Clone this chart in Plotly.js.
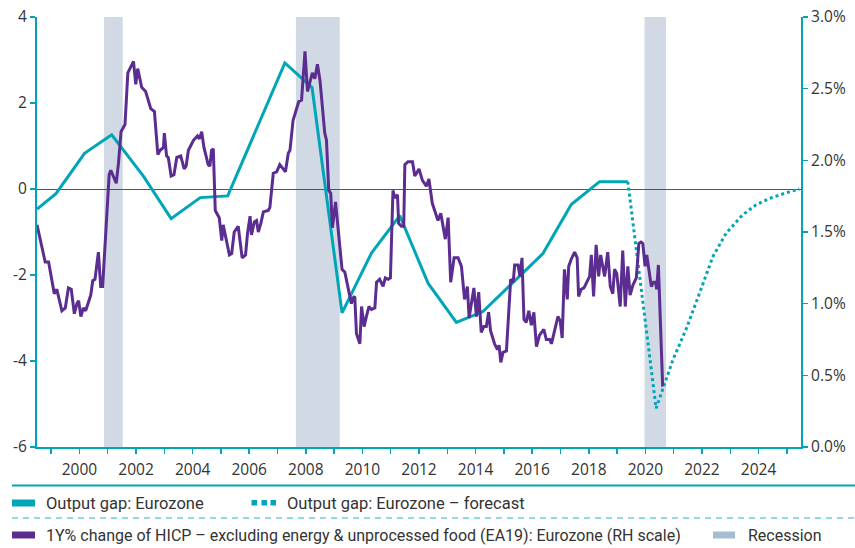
<!DOCTYPE html>
<html>
<head>
<meta charset="utf-8">
<script src="https://cdn.plot.ly/plotly-3.0.1.min.js"></script>
<style>html,body{margin:0;padding:0;background:#fff;}#chart{width:855px;height:548px;}</style>
</head>
<body>
<div id="chart"></div>
<script>
// ---- Data ----
// Output gap: Eurozone (left scale), annual observations
const gapYear  = [1998.50, 1999.17, 2000.18, 2001.14, 2002.26, 2003.24, 2004.27, 2005.24, 2007.26, 2008.22, 2009.28, 2010.32, 2011.32, 2012.32, 2013.32, 2014.26, 2016.38, 2017.38, 2018.38, 2019.38];
const gapValue = [-0.47, -0.11, 0.83, 1.26, 0.30, -0.69, -0.20, -0.16, 2.93, 2.36, -2.88, -1.49, -0.62, -2.19, -3.10, -2.85, -1.50, -0.36, 0.17, 0.17];

// Output gap: Eurozone - forecast (left scale)
const fcYear  = [2019.38, 2020.38, 2020.97, 2021.44, 2021.91, 2022.38, 2022.85, 2023.44, 2023.91, 2024.38, 2024.97, 2025.44];
const fcValue = [0.17, -5.10, -3.98, -3.26, -2.43, -1.58, -1.03, -0.60, -0.37, -0.22, -0.09, 0.00];

// 1Y% change of core HICP (right scale, %)
const hicpYear = [
 1998.50,1998.79,1998.91,1999.11,1999.20,1999.38,1999.50,1999.61,1999.71,1999.82,1999.91,1999.97,
 2000.05,2000.14,2000.22,2000.40,2000.47,2000.55,2000.67,2000.75,2000.82,2001.05,2001.11,2001.20,
 2001.30,2001.38,2001.47,2001.61,2001.71,2001.91,2001.99,2002.06,2002.20,2002.34,2002.52,2002.65,
 2002.77,2002.85,2002.97,2003.00,2003.08,2003.14,2003.24,2003.34,2003.44,2003.58,2003.70,2003.77,
 2003.85,2004.03,2004.17,2004.24,2004.32,2004.40,2004.55,2004.61,2004.67,2004.73,2004.80,2004.94,
 2005.03,2005.08,2005.20,2005.30,2005.38,2005.47,2005.61,2005.75,2005.87,2005.94,2006.03,2006.08,
 2006.18,2006.26,2006.32,2006.41,2006.50,2006.67,2006.73,2006.85,2006.97,2007.08,2007.20,2007.28,
 2007.38,2007.44,2007.55,2007.67,2007.75,2007.85,2007.97,2008.06,2008.14,2008.23,2008.32,2008.41,
 2008.50,2008.58,2008.67,2008.73,2008.81,2008.88,2008.94,2009.05,2009.12,2009.20,2009.28,2009.38,
 2009.47,2009.61,2009.67,2009.73,2009.79,2009.91,2009.97,2010.06,2010.14,2010.23,2010.32,2010.44,
 2010.50,2010.61,2010.73,2010.81,2010.91,2010.99,2011.08,2011.14,2011.24,2011.28,2011.38,2011.46,
 2011.50,2011.61,2011.77,2011.85,2012.00,2012.12,2012.26,2012.35,2012.47,2012.56,2012.67,2012.77,
 2012.93,2013.03,2013.12,2013.24,2013.38,2013.50,2013.61,2013.71,2013.77,2013.94,2014.03,2014.11,
 2014.20,2014.29,2014.38,2014.46,2014.53,2014.67,2014.77,2014.83,2014.89,2014.97,2015.09,2015.24,
 2015.33,2015.38,2015.50,2015.57,2015.64,2015.71,2015.79,2015.88,2015.97,2016.06,2016.15,2016.26,
 2016.41,2016.50,2016.62,2016.68,2016.79,2016.91,2016.99,2017.06,2017.14,2017.24,2017.29,2017.38,
 2017.50,2017.59,2017.64,2017.73,2017.83,2017.91,2018.03,2018.09,2018.17,2018.26,2018.35,2018.42,
 2018.56,2018.67,2018.76,2018.85,2018.91,2018.99,2019.11,2019.20,2019.29,2019.38,2019.46,2019.56,
 2019.68,2019.77,2019.85,2019.91,2019.99,2020.05,2020.15,2020.21,2020.29,2020.36,2020.40,2020.46,
 2020.61,2020.64];
const hicpValue = [
 1.55,1.29,1.29,1.07,1.10,0.95,0.97,1.11,1.10,0.93,1.00,1.02,
 0.91,0.97,0.95,1.06,1.16,1.17,1.36,1.12,1.12,1.90,1.93,1.89,
 1.84,1.98,2.20,2.25,2.61,2.69,2.53,2.64,2.51,2.48,2.36,2.34,
 2.04,2.07,2.09,2.19,2.03,2.02,1.89,1.90,2.02,2.03,1.94,1.96,
 2.07,2.14,2.17,2.15,2.20,2.09,1.97,1.96,2.07,2.08,1.65,1.60,
 1.44,1.55,1.43,1.34,1.35,1.50,1.54,1.32,1.34,1.49,1.61,1.48,
 1.57,1.58,1.50,1.56,1.64,1.65,1.67,1.91,1.92,1.97,1.94,1.92,
 2.05,2.07,2.28,2.37,2.41,2.42,2.76,2.48,2.55,2.61,2.57,2.67,
 2.56,2.37,2.19,2.14,1.79,1.77,1.53,1.71,1.58,1.42,1.24,1.22,
 1.14,1.00,1.04,1.05,0.79,0.72,0.98,0.84,0.91,0.98,0.96,0.97,
 1.15,1.17,1.12,1.18,1.17,1.18,1.79,1.74,1.76,1.56,1.54,1.54,
 1.97,1.99,1.99,1.89,1.94,1.86,1.82,1.87,1.70,1.64,1.58,1.63,
 1.45,1.60,1.15,1.32,1.32,1.26,1.03,1.12,0.90,1.11,0.91,1.08,
 0.80,0.84,0.84,0.94,0.81,0.72,0.68,0.71,0.59,0.66,0.67,1.17,
 1.15,1.27,1.27,1.19,1.32,0.89,0.87,0.95,0.85,0.94,0.70,0.78,
 0.82,0.75,0.75,0.72,0.82,0.91,0.88,0.76,1.24,1.03,1.26,1.31,
 1.36,1.32,1.05,1.10,1.11,1.14,1.19,1.34,1.05,1.41,1.19,1.34,
 1.19,1.36,1.12,1.07,1.24,1.21,0.98,1.37,0.98,1.26,1.06,1.13,
 1.18,1.42,1.43,1.42,1.26,1.34,1.18,1.12,1.15,1.15,1.10,1.27,
 0.43,0.43];

// Recession periods
const recStart = [2000.87, 2007.65, 2019.97];
const recEnd   = [2001.53, 2009.20, 2020.73];

// Axis ticks
const yearTicks = [1999,2000,2001,2002,2003,2004,2005,2006,2007,2008,2009,2010,2011,2012,2013,2014,2015,2016,2017,2018,2019,2020,2021,2022,2023,2024,2025];
const yearLabels = yearTicks.map(y => (y % 2 === 0 ? String(y) : ''));
const leftTicks = [-6, -4, -2, 0, 2, 4];
const leftLabels = ['-6', '-4', '-2', '0', '2', '4'];
const rightTicks = [0, 0.5, 1, 1.5, 2, 2.5, 3];
const rightLabels = ['0.0%', '0.5%', '1.0%', '1.5%', '2.0%', '2.5%', '3.0%'];

// Legend texts
const legendGap = 'Output gap: Eurozone';
const legendFc = 'Output gap: Eurozone \u2013 forecast';
const legendHicp = '1Y% change of HICP \u2013 excluding energy &amp; unprocessed food (EA19): Eurozone (RH scale)';
const legendRec = 'Recession';

// ---- Styles ----
const TEAL = 'rgb(0,166,184)';
const PURPLE = 'rgb(92,45,145)';
const REC = 'rgb(209,217,228)';
const REC_LEG = 'rgb(166,190,212)';
const TICKFONT = {family: 'Open Sans, Liberation Sans, sans-serif', size: 15.5, color: '#333'};
const LEGFONT = {family: 'Roboto, Liberation Sans, sans-serif', size: 16.5, color: '#333'};
const LEGFONT2 = {family: 'Roboto, Liberation Sans, sans-serif', size: 16, color: '#333'};

const M = {l: 37, r: 54, t: 17, b: 101};
const W = 855, H = 548;
const PW = W - M.l - M.r, PH = H - M.t - M.b;
const xp = px => (px - M.l) / PW;
const yp = py => (H - M.b - py) / PH;

const traces = [
  {x: gapYear, y: gapValue, type: 'scatter', mode: 'lines', yaxis: 'y',
   line: {color: TEAL, width: 3}, hoverinfo: 'skip'},
  {x: fcYear, y: fcValue, type: 'scatter', mode: 'lines', yaxis: 'y',
   line: {color: TEAL, width: 3, dash: 'dot'}, hoverinfo: 'skip'},
  {x: hicpYear, y: hicpValue, type: 'scatter', mode: 'lines', yaxis: 'y2',
   line: {color: PURPLE, width: 3}, hoverinfo: 'skip'}
];

const shapes = [];
for (let i = 0; i < recStart.length; i++) {
  shapes.push({type: 'rect', xref: 'x', yref: 'paper', x0: recStart[i], x1: recEnd[i], y0: 0, y1: 1,
    fillcolor: REC, line: {width: 0}, layer: 'below'});
}
// legend frame lines
shapes.push({type: 'line', xref: 'paper', yref: 'paper', x0: xp(12), x1: xp(855), y0: yp(485.5), y1: yp(485.5),
  line: {color: TEAL, width: 2}});
shapes.push({type: 'line', xref: 'paper', yref: 'paper', x0: xp(12), x1: xp(855), y0: yp(518), y1: yp(518),
  line: {color: 'rgb(110,205,218)', width: 1.5, dash: '6px,5px'}});
// legend swatches
function rect(x0, x1, y0, y1, c) {
  shapes.push({type: 'rect', xref: 'paper', yref: 'paper', x0: xp(x0), x1: xp(x1), y0: yp(y0), y1: yp(y1),
    fillcolor: c, line: {width: 0}});
}
rect(12, 35, 499.5, 506.5, TEAL);
rect(251.5, 257, 500, 505.5, TEAL);
rect(261.5, 267, 500, 505.5, TEAL);
rect(270.5, 276, 500, 505.5, TEAL);
rect(12, 35, 531.5, 538.5, PURPLE);
rect(713, 735, 531.5, 538.5, REC_LEG);

function label(px, py, t, f) {
  return {xref: 'paper', yref: 'paper', x: xp(px), y: yp(py), text: t, showarrow: false,
    xanchor: 'left', yanchor: 'middle', font: f};
}
const annotations = [
  label(44, 503, legendGap, LEGFONT),
  label(285, 503, legendFc, LEGFONT),
  label(44, 535, legendHicp, LEGFONT2),
  label(746, 535, legendRec, LEGFONT2)
];

const layout = {
  width: W, height: H, margin: M,
  paper_bgcolor: '#fff', plot_bgcolor: '#fff',
  showlegend: false,
  xaxis: {range: [1998.5, 2025.5], tickmode: 'array', tickvals: yearTicks, ticktext: yearLabels,
    ticks: 'outside', ticklen: 5, tickwidth: 1.5, tickcolor: TEAL, showline: true, linecolor: TEAL,
    linewidth: 2, showgrid: false, zeroline: false, tickfont: TICKFONT, ticklabelstandoff: 2},
  yaxis: {range: [-6, 4], tickmode: 'array', tickvals: leftTicks, ticktext: leftLabels,
    ticks: 'outside', ticklen: 5, tickwidth: 1.5, tickcolor: TEAL, showline: true, linecolor: TEAL,
    linewidth: 2, showgrid: false, zeroline: true, zerolinecolor: '#555', zerolinewidth: 1,
    tickfont: TICKFONT},
  yaxis2: {range: [0, 3], overlaying: 'y', side: 'right', tickmode: 'array', tickvals: rightTicks,
    ticktext: rightLabels, ticks: 'outside', ticklen: 5, tickwidth: 1.5, tickcolor: TEAL,
    showline: true, linecolor: TEAL, linewidth: 2, showgrid: false, zeroline: false, tickfont: TICKFONT},
  shapes: shapes,
  annotations: annotations
};

Plotly.newPlot('chart', traces, layout, {displayModeBar: false, staticPlot: true});
</script>
</body>
</html>
